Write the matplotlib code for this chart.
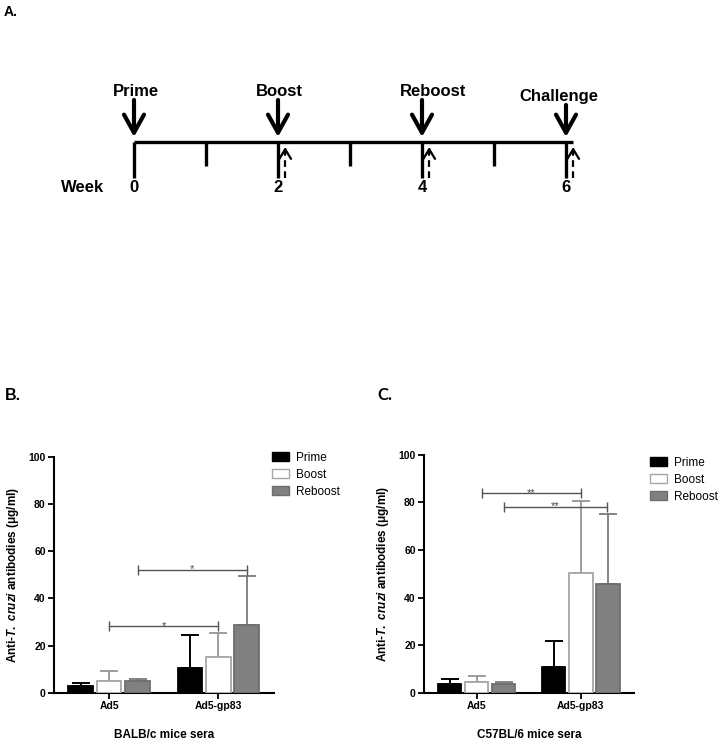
import numpy as np
import matplotlib
matplotlib.use("Agg")
import matplotlib.pyplot as plt
from matplotlib.patches import Patch

plt.rcParams['font.family'] = ['Liberation Sans', 'DejaVu Sans']
plt.rcParams['mathtext.fontset'] = 'custom'
plt.rcParams['mathtext.it'] = 'Liberation Sans:italic:bold'
plt.rcParams['mathtext.rm'] = 'Liberation Sans:bold'

# timeline (panel A)
event_names = ['Prime', 'Boost', 'Reboost', 'Challenge']
event_weeks = [0, 2, 4, 6]
minor_weeks = [1, 3, 5]
bleed_weeks = [2.1, 4.1, 6.1]

# bar panels
groups = ['Ad5', 'Ad5-gp83']
series = ['Prime', 'Boost', 'Reboost']

balbc_mean = [[2.8, 10.7], [4.9, 15.4], [4.9, 28.6]]
balbc_err = [[1.5, 13.9], [4.3, 10.2], [0.9, 21.0]]
balbc_sig = [(0.26, 1.26, 52.2, '*'), (0.0, 1.0, 28.4, '*')]

c57_mean = [[3.5, 10.7], [4.3, 50.3], [3.5, 45.6]]
c57_err = [[2.2, 11.2], [2.9, 30.3], [1.1, 29.6]]
c57_sig = [(0.05, 1.0, 84.0, '**'), (0.26, 1.25, 78.2, '**')]

fills = ['#000000', '#ffffff', '#808080']
edges = ['#000000', '#a6a6a6', '#6e6e6e']
err_cols = ['#000000', '#8c8c8c', '#6e6e6e']

fig = plt.figure(figsize=(7.2, 7.44), dpi=100)
W, H = 720, 744

# ---- panel A ----
ax_t = fig.add_axes([0, 0, 1, 1])
ax_t.set_xlim(-134 / 72, (W - 134) / 72)
ax_t.set_ylim(H, 0)
ax_t.axis('off')

ax_t.plot([0, 6.1], [142, 142], color='black', lw=2.4, solid_capstyle='butt')
for w in event_weeks:
    ax_t.plot([w, w], [142, 178], color='black', lw=2.4, solid_capstyle='butt')
    ax_t.text(w, 188, str(w), ha='center', va='center', fontsize=12, fontweight='bold')
for w in minor_weeks:
    ax_t.plot([w, w], [142, 166], color='black', lw=2.4, solid_capstyle='butt')
ax_t.text(-0.71, 188, 'Week', ha='center', va='center', fontsize=12, fontweight='bold')

label_y = [92, 92, 91, 96]
label_dx = [0.03, 0.02, 0.15, -0.1]
arrow_top = [100, 100, 100, 105]
for name, w, ly, dx, top in zip(event_names, event_weeks, label_y, label_dx, arrow_top):
    ax_t.text(w + dx, ly, name, ha='center', va='center', fontsize=12, fontweight='bold')
    ax_t.annotate('', xy=(w, 137), xytext=(w, top),
                  arrowprops=dict(arrowstyle='->, head_width=0.36, head_length=0.65',
                                  lw=3, color='black', mutation_scale=20,
                                  shrinkA=0, shrinkB=0))
for w in bleed_weeks:
    ax_t.plot([w, w], [178, 153], color='black', lw=1.6, linestyle=(0, (3, 2)))
    ax_t.annotate('', xy=(w, 147), xytext=(w, 154),
                  arrowprops=dict(arrowstyle='->, head_width=0.3, head_length=0.5',
                                  lw=1.6, color='black', mutation_scale=14,
                                  shrinkA=0, shrinkB=0))

fig.text(4 / W, 1 - 12 / H, 'A.', ha='left', va='center', fontsize=10, fontweight='bold')
fig.text(5 / W, 1 - 395 / H, 'B.', ha='left', va='center', fontsize=11.5, fontweight='bold')
fig.text(377 / W, 1 - 395 / H, 'C.', ha='left', va='center', fontsize=12,
         fontweight='bold', family=['Lato', 'DejaVu Sans'])


def draw_panel(ax, means, errs, sigs, xlabel):
    x = np.arange(len(groups))
    offs = [-0.26, 0.0, 0.26]
    for i in range(len(series)):
        ax.bar(x + offs[i], means[i], 0.225, color=fills[i], edgecolor=edges[i],
               linewidth=1.3, zorder=3)
        ax.errorbar(x + offs[i], means[i], yerr=[np.zeros(len(groups)), errs[i]],
                    fmt='none', ecolor=err_cols[i], elinewidth=1.4 if i == 0 else 1.2,
                    capsize=6.5, capthick=1.4 if i == 0 else 1.2, zorder=2)
    for x1, x2, y, star in sigs:
        ax.plot([x1, x2], [y, y], color='#555555', lw=1.0, marker='|',
                markersize=7, markeredgewidth=1.0)
        ax.text((x1 + x2) / 2, y - 1.2, star, ha='center', va='baseline',
                fontsize=8, color='#444444')
    ax.set_xlim(-0.505, 1.51)
    ax.set_ylim(0, 100)
    ax.set_yticks([0, 20, 40, 60, 80, 100])
    ax.set_xticks(x)
    ax.set_xticklabels(groups)
    for s in ['top', 'right']:
        ax.spines[s].set_visible(False)
    for s in ['left', 'bottom']:
        ax.spines[s].set_linewidth(1.5)
    ax.tick_params(length=4, width=1.3, labelsize=7.5, pad=2)
    for lab in ax.get_xticklabels() + ax.get_yticklabels():
        lab.set_fontweight('bold')
    ax.set_ylabel(r'Anti-$\mathit{T.\ cruzi}$ antibodies (μg/ml)', fontsize=8.5,
                  fontweight='bold', labelpad=5)
    ax.set_xlabel(xlabel, fontsize=8.5, fontweight='bold', labelpad=13)


ax_b = fig.add_axes([54 / W, 1 - 693 / H, 220 / W, 236.3 / H])
draw_panel(ax_b, balbc_mean, balbc_err, balbc_sig, 'BALB/c mice sera')

ax_c = fig.add_axes([424 / W, 1 - 692.7 / H, 210 / W, 238 / H])
draw_panel(ax_c, c57_mean, c57_err, c57_sig, 'C57BL/6 mice sera')

handles = [Patch(facecolor=fills[i], edgecolor=edges[i], linewidth=1.0, label=series[i])
           for i in range(len(series))]
for lx, ly in [(272, 452), (650, 457)]:
    fig.legend(handles=handles, loc='upper left', bbox_to_anchor=(lx / W, 1 - ly / H),
               frameon=False, fontsize=8.5, handlelength=1.45, handleheight=0.8,
               handletextpad=0.6, labelspacing=0.42, borderpad=0, borderaxespad=0)

fig.savefig('out.png', dpi=100)
